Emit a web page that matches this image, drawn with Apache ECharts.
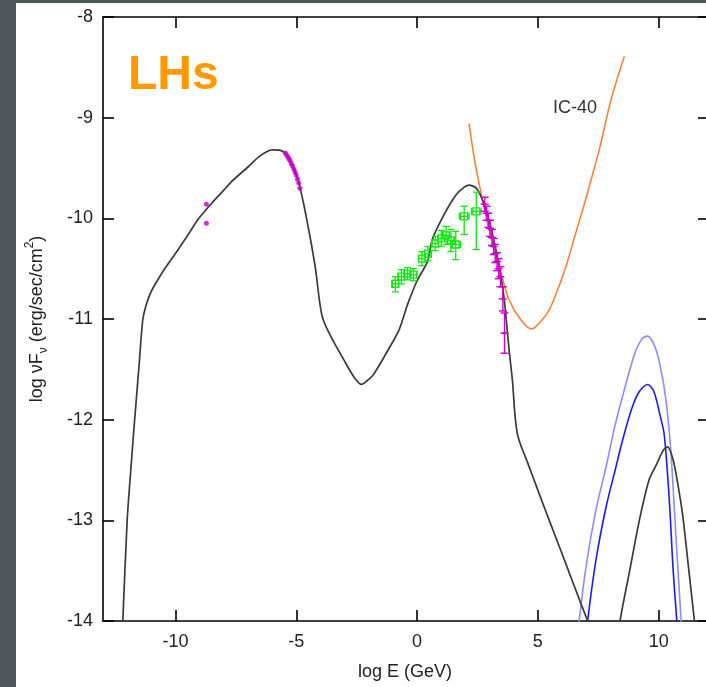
<!DOCTYPE html>
<html><head><meta charset="utf-8">
<script src="https://cdn.jsdelivr.net/npm/echarts@6/dist/echarts.min.js"></script>
<style>html,body{margin:0;padding:0;background:#4f575b;} #c{width:706px;height:687px;}</style>
</head><body><div id="c"></div>
<script>
// ---- tick values ----
const xTickValues = [-10, -5, 0, 5, 10];
const yRange = [-14, -8];
const xRange = [-13, 12];

// ---- model SED (black) ----
const modelMainE = [-12.27,-12.18,-12.0,-11.85,-11.69,-11.52,-11.35,-11.2,-11.05,-10.9,-10.5,-10.0,-9.5,-9.03,-8.5,-8.0,-7.66,-7.0,-6.5,-6.0,-5.6,-5.3,-5.0,-4.89,-4.7,-4.56,-4.38,-4.2,-4.05,-3.95,-3.85,-3.7,-3.4,-2.95,-2.6,-2.3,-2.0,-1.8,-1.3,-0.75,-0.4,0.0,0.43,0.63,1.1,1.6,1.9,2.15,2.45,2.71,3.0,3.26,3.45,3.61,3.81,3.95,4.05,4.15,4.3,4.5,5.06,5.47,5.95,6.5,7.06,7.3];
const modelMainF = [-14.5,-14.0,-13.0,-12.5,-12.0,-11.5,-11.0,-10.85,-10.75,-10.68,-10.52,-10.35,-10.17,-10.0,-9.85,-9.72,-9.63,-9.49,-9.38,-9.32,-9.33,-9.40,-9.57,-9.65,-9.85,-10.02,-10.25,-10.51,-10.8,-10.95,-11.03,-11.11,-11.25,-11.44,-11.58,-11.65,-11.6,-11.55,-11.35,-11.11,-10.86,-10.62,-10.43,-10.21,-9.97,-9.77,-9.70,-9.67,-9.70,-9.82,-10.04,-10.31,-10.55,-10.81,-11.31,-11.62,-11.95,-12.14,-12.26,-12.38,-12.74,-13.0,-13.30,-13.65,-14.0,-14.15];
const modelHighE = [8.2,8.4,8.8,9.2,9.6,9.9,10.2,10.37,10.6,10.8,11.0,11.25,11.48,11.6];
const modelHighF = [-14.4,-14.0,-13.5,-13.0,-12.6,-12.45,-12.3,-12.27,-12.4,-12.65,-12.96,-13.5,-14.0,-14.3];

// ---- neutrino curves (blue) ----
const nuLightE = [6.6,6.71,7.0,7.4,7.82,8.2,8.65,9.0,9.3,9.54,9.8,10.05,10.3,10.5,10.65,10.8,10.93,11.0];
const nuLightF = [-14.3,-14.0,-13.45,-12.9,-12.47,-12.05,-11.64,-11.35,-11.2,-11.17,-11.25,-11.45,-11.8,-12.3,-12.9,-13.5,-14.0,-14.3];
const nuDarkE = [6.95,7.06,7.4,7.82,8.2,8.51,8.9,9.2,9.54,9.8,10.05,10.23,10.44,10.6,10.75,10.82];
const nuDarkF = [-14.3,-14.0,-13.4,-12.87,-12.5,-12.2,-11.88,-11.72,-11.65,-11.72,-11.95,-12.15,-12.8,-13.5,-14.0,-14.3];

// ---- IC-40 sensitivity (orange) ----
const icE = [2.15,2.4,2.71,3.0,3.4,3.81,4.3,4.75,5.1,5.47,5.8,6.16,6.5,6.85,7.2,7.54,8.03,8.58];
const icF = [-9.06,-9.45,-9.82,-10.13,-10.48,-10.81,-11.01,-11.10,-11.03,-10.91,-10.72,-10.48,-10.2,-9.92,-9.62,-9.32,-8.82,-8.39];

// ---- magenta data (optical / X-ray) ----
const optE = [-8.72,-8.72,-5.45,-5.40,-5.35,-5.30,-5.25,-5.20,-5.15,-5.10,-5.05,-5.00,-4.95,-4.90,-4.85];
const optF = [-9.86,-10.05,-9.35,-9.37,-9.39,-9.41,-9.43,-9.46,-9.48,-9.51,-9.54,-9.57,-9.61,-9.65,-9.70];

// ---- green data (Fermi) ----
const fermiE   = [-0.9,-0.65,-0.4,-0.15,0.2,0.45,0.75,1.0,1.2,1.4,1.6,1.95,2.45];
const fermiF   = [-10.65,-10.58,-10.55,-10.56,-10.40,-10.35,-10.25,-10.20,-10.17,-10.22,-10.26,-9.98,-9.93];
const fermiLo  = [-10.73,-10.65,-10.61,-10.62,-10.47,-10.42,-10.32,-10.28,-10.26,-10.33,-10.41,-10.16,-10.31];
const fermiHi  = [-10.58,-10.51,-10.49,-10.50,-10.33,-10.28,-10.18,-10.12,-10.08,-10.11,-10.13,-9.88,-9.74];
const fermiEerr= [0.13,0.13,0.13,0.13,0.13,0.13,0.13,0.13,0.13,0.13,0.2,0.2,0.2];

// ---- magenta TeV data ----
const tevE   = [2.8,2.88,2.95,3.02,3.1,3.17,3.24,3.31,3.38,3.45,3.55,3.62];
const tevF   = [-9.86,-9.95,-10.02,-10.10,-10.19,-10.28,-10.35,-10.43,-10.50,-10.58,-10.80,-11.14];
const tevErr = [0.07,0.07,0.07,0.08,0.08,0.08,0.09,0.09,0.10,0.10,0.12,0.20];

const zip = (a, b) => a.map((v, i) => [v, b[i]]);
const FONT = 'Liberation Sans, Arial, sans-serif';

function fermiRender(params, api) {
  const x = api.value(0), y = api.value(1), ylo = api.value(2), yhi = api.value(3), xe = api.value(4);
  const c = api.coord([x, y]);
  const l = api.coord([x - xe, y]), r = api.coord([x + xe, y]);
  const lo = api.coord([x, ylo]), hi = api.coord([x, yhi]);
  const st = {stroke: '#10e610', lineWidth: 1.3, fill: null};
  const cap = 3.5, s = 3.5;
  return {type: 'group', children: [
    {type: 'line', shape: {x1: l[0], y1: c[1], x2: r[0], y2: c[1]}, style: st},
    {type: 'line', shape: {x1: c[0], y1: lo[1], x2: c[0], y2: hi[1]}, style: st},
    {type: 'line', shape: {x1: c[0]-cap, y1: lo[1], x2: c[0]+cap, y2: lo[1]}, style: st},
    {type: 'line', shape: {x1: c[0]-cap, y1: hi[1], x2: c[0]+cap, y2: hi[1]}, style: st},
    {type: 'line', shape: {x1: l[0], y1: c[1]-cap, x2: l[0], y2: c[1]+cap}, style: st},
    {type: 'line', shape: {x1: r[0], y1: c[1]-cap, x2: r[0], y2: c[1]+cap}, style: st},
    {type: 'rect', shape: {x: c[0]-s, y: c[1]-s, width: 2*s, height: 2*s}, style: st}
  ]};
}
function tevRender(params, api) {
  const x = api.value(0), y = api.value(1), e = api.value(2);
  const c = api.coord([x, y]);
  const lo = api.coord([x, y - e]), hi = api.coord([x, y + e]);
  const st = {stroke: '#cc00cc', lineWidth: 1.4, fill: null};
  const cap = 4;
  return {type: 'group', children: [
    {type: 'line', shape: {x1: c[0], y1: lo[1], x2: c[0], y2: hi[1]}, style: st},
    {type: 'line', shape: {x1: c[0]-cap, y1: lo[1], x2: c[0]+cap, y2: lo[1]}, style: st},
    {type: 'line', shape: {x1: c[0]-cap, y1: hi[1], x2: c[0]+cap, y2: hi[1]}, style: st},
    {type: 'line', shape: {x1: c[0]-cap, y1: c[1], x2: c[0]+cap, y2: c[1]}, style: st},
    {type: 'circle', shape: {cx: c[0], cy: c[1], r: 1.6}, style: {fill: '#cc00cc'}}
  ]};
}

const axisCommon = {
  type: 'value', min: xRange[0], max: xRange[1],
  splitLine: {show: false},
  axisLine: {show: true, onZero: false, lineStyle: {color: '#000', width: 1.6}},
  axisTick: {show: true, inside: true, length: 11, customValues: xTickValues, lineStyle: {color: '#000', width: 1.6}}
};

const chart = echarts.init(document.getElementById('c'), null, {renderer: 'canvas'});
chart.setOption({
  backgroundColor: '#4f575b',
  animation: false,
  graphic: [
    {type: 'rect', z: -100, shape: {x: 16, y: 3, width: 690, height: 684}, style: {fill: '#fff'}},
    {type: 'text', z: 100, x: 128, y: 76, style: {text: 'LHs', fill: '#ff9900', font: 'bold 48px ' + FONT, verticalAlign: 'middle', align: 'left'}},
    {type: 'text', z: 100, x: 553, y: 108, style: {text: 'IC-40', fill: '#333', font: '18px ' + FONT, verticalAlign: 'middle', align: 'left'}}
  ],
  grid: {left: 103, top: 17, width: 604, height: 604, containLabel: false, outerBoundsMode: 'none'},
  xAxis: [
    Object.assign({}, axisCommon, {
      position: 'bottom',
      axisLabel: {customValues: xTickValues, margin: 12, color: '#222', fontSize: 18, fontFamily: FONT},
      name: 'log E (GeV)', nameLocation: 'middle', nameGap: 42,
      nameTextStyle: {color: '#222', fontSize: 18, fontFamily: FONT}
    }),
    Object.assign({}, axisCommon, {position: 'top', axisLabel: {show: false}})
  ],
  yAxis: [
    {
      type: 'value', min: yRange[0], max: yRange[1], interval: 1, position: 'left',
      splitLine: {show: false},
      axisLine: {show: true, onZero: false, lineStyle: {color: '#000', width: 1.6}},
      axisTick: {show: true, inside: true, length: 11, lineStyle: {color: '#000', width: 1.6}},
      axisLabel: {margin: 10, color: '#222', fontSize: 18, fontFamily: FONT},
      name: '{a|log νF}{s|ν}{a| (erg/sec/cm}{p|2}{a|)}', nameLocation: 'middle', nameGap: 53, nameRotate: 90,
      nameTextStyle: {
        color: '#222', fontSize: 18, fontFamily: FONT,
        rich: {
          a: {fontSize: 18, fontFamily: FONT, color: '#222', lineHeight: 26, verticalAlign: 'middle'},
          s: {fontSize: 12, fontFamily: FONT, color: '#222', lineHeight: 26, verticalAlign: 'bottom'},
          p: {fontSize: 12, fontFamily: FONT, color: '#222', lineHeight: 26, verticalAlign: 'top'}
        }
      }
    },
    {
      type: 'value', min: yRange[0], max: yRange[1], interval: 1, position: 'right',
      splitLine: {show: false},
      axisLine: {show: true, onZero: false, lineStyle: {color: '#000', width: 1.6}},
      axisTick: {show: true, inside: true, length: 9, lineStyle: {color: '#000', width: 1.6}},
      axisLabel: {show: false}
    }
  ],
  series: [
    {type: 'line', data: zip(modelMainE, modelMainF), showSymbol: false, symbol: 'none', clip: true, smooth: 0.25,
     lineStyle: {color: '#3a3a3a', width: 1.7}, z: 3},
    {type: 'line', data: zip(modelHighE, modelHighF), showSymbol: false, symbol: 'none', clip: true, smooth: 0.3,
     lineStyle: {color: '#3a3a3a', width: 1.7}, z: 3},
    {type: 'line', data: zip(nuLightE, nuLightF), showSymbol: false, symbol: 'none', clip: true, smooth: 0.3,
     lineStyle: {color: '#8c8cff', width: 1.6}, z: 2},
    {type: 'line', data: zip(nuDarkE, nuDarkF), showSymbol: false, symbol: 'none', clip: true, smooth: 0.3,
     lineStyle: {color: '#1a1aff', width: 1.6}, z: 2},
    {type: 'line', data: zip(icE, icF), showSymbol: false, symbol: 'none', clip: true, smooth: 0.3,
     lineStyle: {color: '#f4843a', width: 1.6}, z: 2},
    {type: 'scatter', data: zip(optE, optF), symbol: 'circle', symbolSize: 5, clip: true,
     itemStyle: {color: '#c800c8'}, z: 5},
    {type: 'custom', renderItem: fermiRender, clip: true, z: 4,
     data: fermiE.map((e, i) => [e, fermiF[i], fermiLo[i], fermiHi[i], fermiEerr[i]])},
    {type: 'custom', renderItem: tevRender, clip: true, z: 5,
     data: tevE.map((e, i) => [e, tevF[i], tevErr[i]])}
  ]
});
</script></body></html>
